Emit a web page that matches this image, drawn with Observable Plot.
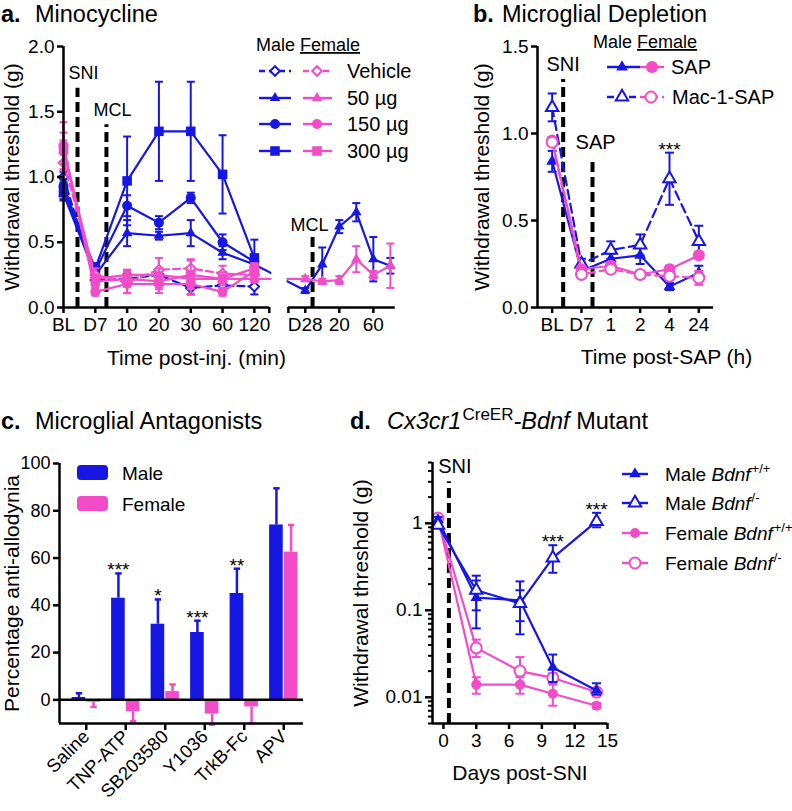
<!DOCTYPE html>
<html><head><meta charset="utf-8">
<script src="https://cdn.jsdelivr.net/npm/d3@7"></script>
<script src="https://cdn.jsdelivr.net/npm/@observablehq/plot@0.6"></script>
<style>
body{margin:0;background:#fff;}
#root{position:relative;width:792px;height:811px;overflow:hidden;background:#fff;}
#root svg{position:absolute;}
</style></head><body><div id="root"></div>
<script>
const BLUE = "#1717e3", PINK = "#f24cc8", FONT = '"Liberation Sans", Arial, Helvetica, sans-serif';

// ---------------- Panel a: Minocycline ----------------
const aEarlyLabels = ["BL","D7","10","20","30","60","120"];
const aLateLabels = ["D28","10","20","30","60","120"];
const aDoses = ["Vehicle","50 µg","150 µg","300 µg"];
const aMaleVeh    = [1.00,0.21,0.22,0.25,0.15,0.17,0.16];
const aMaleVehErr = [0.04,0.03,0.04,0.04,0.05,0.05,0.06];
const aMale50     = [0.87,0.25,0.57,0.55,0.57,0.42,0.33];
const aMale50Err  = [0.05,0.03,0.10,0.03,0.10,0.05,0.04];
const aMale150    = [0.93,0.28,0.78,0.65,0.84,0.50,0.35];
const aMale150Err = [0.05,0.04,0.08,0.05,0.04,0.06,0.05];
const aMale300    = [0.88,0.30,0.97,1.35,1.35,1.02,0.38];
const aMale300Err = [0.05,0.04,0.34,0.38,0.38,0.30,0.14];
const aFemVeh     = [1.11,0.25,0.19,0.29,0.30,0.26,0.25];
const aFemVehErr  = [0.06,0.05,0.08,0.09,0.07,0.06,0.05];
const aFem50      = [1.20,0.22,0.25,0.25,0.22,0.22,0.22];
const aFem50Err   = [0.08,0.03,0.04,0.05,0.04,0.03,0.03];
const aFem150     = [1.24,0.12,0.18,0.18,0.18,0.12,0.28];
const aFem150Err  = [0.18,0.03,0.07,0.07,0.08,0.03,0.04];
const aFem300     = [1.22,0.20,0.22,0.20,0.25,0.22,0.30];
const aFem300Err  = [0.12,0.04,0.06,0.06,0.11,0.05,0.04];
const aMale50Late    = [0.13,0.33,0.62,0.73,0.37,0.32];
const aMale50LateErr = [0.02,0.13,0.05,0.07,0.17,0.06];
const aFem50Late     = [0.22,0.20,0.21,0.37,0.25,0.32];
const aFem50LateErr  = [0.02,0.02,0.03,0.10,0.03,0.17];

// ---------------- Panel b: Microglial depletion ----------------
const bLabels = ["BL","D7","1","2","4","24"];
const bMaleSAP    = [0.84,0.21,0.28,0.30,0.12,0.20];
const bMaleSAPErr = [0.06,0.02,0.03,0.05,0.02,0.04];
const bMaleMac    = [1.15,0.25,0.33,0.36,0.74,0.38];
const bMaleMacErr = [0.08,0.03,0.05,0.06,0.15,0.09];
const bFemSAP     = [0.96,0.22,0.24,0.19,0.22,0.30];
const bFemSAPErr  = [0.02,0.02,0.02,0.02,0.02,0.02];
const bFemMac     = [0.95,0.19,0.22,0.19,0.18,0.17];
const bFemMacErr  = [0.02,0.02,0.02,0.02,0.02,0.04];

// ---------------- Panel c: Microglial antagonists ----------------
const cAgents = ["Saline","TNP-ATP","SB203580","Y1036","TrkB-Fc","APV"];
const cMale      = [1, 43, 32, 28.5, 45, 74];
const cMaleErr   = [1.8, 10.5, 10.5, 5, 10.5, 15.5];
const cFemale    = [-1, -5, 3.5, -6, -3, 62.5];
const cFemaleErr = [2, 4, 3, 4.5, 7, 11.5];
const cStars     = ["", "***", "*", "***", "**", ""];

// ---------------- Panel d: Cx3cr1-Bdnf mutant ----------------
const dDays = [-0.5, 3, 7, 10, 14];
const dMaleWT   = [1.10, 0.14, 0.13, 0.022, 0.012];
const dMaleWTLo = [1.02, 0.062, 0.075, 0.015, 0.0107];
const dMaleWTHi = [1.18, 0.22, 0.17, 0.031, 0.0145];
const dMaleKO   = [0.95, 0.17, 0.12, 0.40, 1.05];
const dMaleKOLo = [0.90, 0.10, 0.053, 0.27, 0.90];
const dMaleKOHi = [1.00, 0.25, 0.215, 0.56, 1.32];
const dFemWT    = [1.15, 0.014, 0.014, 0.011, 0.008];
const dFemWTLo  = [1.10, 0.011, 0.011, 0.008, 0.0075];
const dFemWTHi  = [1.20, 0.017, 0.017, 0.014, 0.0086];
const dFemKO    = [1.15, 0.037, 0.020, 0.0167, 0.0115];
const dFemKOLo  = [1.10, 0.029, 0.0145, 0.0145, 0.0105];
const dFemKOHi  = [1.20, 0.046, 0.029, 0.019, 0.0128];
const dStars    = ["", "", "", "***", "***"];

// ---------------- helpers ----------------
const capSym = {draw(ctx, size){ const w = Math.sqrt(size/Math.PI); ctx.moveTo(-w,0); ctx.lineTo(w,0); }};
function errMarks(rows, col, capR, sw){
  return [
    Plot.ruleX(rows, {x:"x", y1:"lo", y2:"hi", stroke:col, strokeWidth:sw}),
    Plot.dot(rows, {x:"x", y:"hi", symbol:capSym, r:capR, stroke:col, strokeWidth:sw, fill:"none"}),
    Plot.dot(rows, {x:"x", y:"lo", symbol:capSym, r:capR, stroke:col, strokeWidth:sw, fill:"none"})
  ];
}
function seriesMarks(rows, col, sym, opts={}){
  const sw = opts.sw ?? 2.2;
  return [
    ...errMarks(rows, col, opts.capR ?? 4, opts.esw ?? 2),
    Plot.line(rows, {x:"x", y:"y", stroke:col, strokeWidth:sw, strokeDasharray: opts.dash ?? null}),
    Plot.dot(rows, {x:"x", y:"y", symbol:sym.symbol, r:sym.r, fill: sym.open ? "white" : col, stroke:col, strokeWidth: sym.open ? 2 : 0})
  ];
}
const plotStyle = {fontFamily: FONT, background: "transparent", overflow: "visible", color: "black"};
function place(svg, left, top){ svg.style.left = left+"px"; svg.style.top = top+"px"; document.getElementById("root").appendChild(svg); }
function yLabel(text, dx){ return Plot.text([text], {frameAnchor:"left", textAnchor:"middle", rotate:-90, dx, lineAnchor:"middle", fontSize:21, fill:"black"}); }
function xLabel(text, dx, dy){ return Plot.text([text], {frameAnchor:"bottom", textAnchor:"middle", dx, dy, lineAnchor:"top", fontSize:21, fill:"black"}); }
const eventStyle = {stroke:"black", strokeWidth:4, strokeDasharray:"10,5"};

// ---------------- Panel a plot ----------------
const AX = {gapStart: 6.47, gapEnd: 7.07, lateStart: 7.6, lateStep: 0.535, end: 10.43};
const aLateX = j => AX.lateStart + j*AX.lateStep;
const aSyms = [
  {symbol:"diamond2", r:4.3, open:true},
  {symbol:"triangle", r:3.9},
  {symbol:"circle", r:5},
  {symbol:"square", r:5.4}
];
const aSeries = [
  {col:BLUE, dose:0, v:aMaleVeh, e:aMaleVehErr},
  {col:BLUE, dose:1, v:aMale50, e:aMale50Err, lv:aMale50Late, le:aMale50LateErr},
  {col:BLUE, dose:2, v:aMale150, e:aMale150Err},
  {col:BLUE, dose:3, v:aMale300, e:aMale300Err},
  {col:PINK, dose:0, v:aFemVeh, e:aFemVehErr},
  {col:PINK, dose:1, v:aFem50, e:aFem50Err, lv:aFem50Late, le:aFem50LateErr},
  {col:PINK, dose:2, v:aFem150, e:aFem150Err},
  {col:PINK, dose:3, v:aFem300, e:aFem300Err}
];
function aRows(s){
  const r = s.v.map((y,i)=>({x:i, y, lo:y-s.e[i], hi:y+s.e[i]}));
  if (s.lv) s.lv.forEach((y,j)=>r.push({x:aLateX(j), y, lo:y-s.le[j], hi:y+s.le[j]}));
  return r;
}
const aTickPos = [...aEarlyLabels.map((_,i)=>i), AX.gapStart, AX.gapEnd, aLateX(0), aLateX(2), aLateX(4)];
const aTickText = [...aEarlyLabels, "", "", aLateLabels[0], aLateLabels[2], aLateLabels[4]];
const aPlot = Plot.plot({
  width:400, height:390, marginLeft:63, marginRight:3, marginTop:46, marginBottom:83,
  style: plotStyle,
  x:{domain:[0,10.5]}, y:{domain:[0,2]},
  marks:[
    Plot.ruleX([0.44], {y1:0, y2:1.68, ...eventStyle}),
    Plot.ruleX([1.35], {y1:0, y2:1.40, ...eventStyle}),
    Plot.ruleX([7.83], {y1:0, y2:0.54, ...eventStyle}),
    ...aSeries.flatMap(s => seriesMarks(aRows(s), s.col, aSyms[s.dose], {dash: s.dose===0 ? "7,4" : null})),
    Plot.rect([0], {x1:6.55, x2:7.03, y1:0.03, y2:1.9, fill:"white"}),
    Plot.text(["SNI"], {x:0.63, y:1.75, lineAnchor:"bottom", fontSize:18, fill:"black"}),
    Plot.text(["MCL"], {x:1.54, y:1.465, lineAnchor:"bottom", fontSize:18, fill:"black"}),
    Plot.text(["MCL"], {x:7.73, y:0.59, lineAnchor:"bottom", fontSize:18, fill:"black"}),
    Plot.ruleX([0], {y1:0, y2:2, stroke:"black", strokeWidth:2.5}),
    Plot.ruleY([0], {x1:0, x2:AX.gapStart, stroke:"black", strokeWidth:2.5}),
    Plot.ruleY([0], {x1:AX.gapEnd, x2:AX.end, stroke:"black", strokeWidth:2.5}),
    Plot.axisY({ticks:[0,0.5,1,1.5,2], tickFormat:d3.format(".1f"), tickSize:6, tickPadding:3, fontSize:19, strokeWidth:2.5, label:null}),
    Plot.axisX({ticks:aTickPos, tickFormat:(d,i)=>aTickText[aTickPos.indexOf(d)], tickSize:6, tickPadding:4, fontSize:19, strokeWidth:2.5, label:null}),
    yLabel("Withdrawal threshold (g)", -51),
    xLabel("Time post-inj. (min)", -34, 43)
  ]
});
place(aPlot, 0, 0);

// ---------------- Panel b plot ----------------
function bRows(v, e){ return v.map((y,i)=>({x:i, y, lo:y-e[i], hi:y+e[i]})); }
const bPlot = Plot.plot({
  width:392, height:390, marginLeft:137, marginRight:79, marginTop:46, marginBottom:83,
  style: plotStyle,
  x:{domain:[-0.5,5.5]}, y:{domain:[0,1.5]},
  marks:[
    Plot.ruleX([0.375], {y1:0, y2:1.31, ...eventStyle}),
    Plot.ruleX([1.375], {y1:0, y2:0.854, ...eventStyle}),
    ...seriesMarks(bRows(bMaleSAP,bMaleSAPErr), BLUE, {symbol:"triangle", r:4.4}, {capR:4.5}),
    ...seriesMarks(bRows(bMaleMac,bMaleMacErr), BLUE, {symbol:"triangle", r:4.6, open:true}, {dash:"9,5", capR:4.5}),
    ...seriesMarks(bRows(bFemSAP,bFemSAPErr), PINK, {symbol:"circle", r:6}, {capR:4.5}),
    ...seriesMarks(bRows(bFemMac,bFemMacErr), PINK, {symbol:"circle", r:5.5, open:true}, {dash:"9,5", capR:4.5}),
    Plot.text(["SNI"], {x:0.375, y:1.36, lineAnchor:"bottom", fontSize:20, fill:"black"}),
    Plot.text(["SAP"], {x:1.48, y:0.91, lineAnchor:"bottom", fontSize:20, fill:"black"}),
    Plot.text(["***"], {x:4, y:bMaleMac[4]+bMaleMacErr[4], lineAnchor:"bottom", dy:3, fontSize:19, fill:"black"}),
    Plot.ruleX([-0.5], {y1:0, y2:1.5, stroke:"black", strokeWidth:2.5}),
    Plot.ruleY([0], {x1:-0.5, x2:5.5, stroke:"black", strokeWidth:2.5}),
    Plot.axisY({ticks:[0,0.5,1,1.5], tickFormat:d3.format(".1f"), tickSize:6, tickPadding:3, fontSize:19, strokeWidth:2.5, label:null}),
    Plot.axisX({ticks:d3.range(bLabels.length), tickFormat:i=>bLabels[i], tickSize:6, tickPadding:4, fontSize:19, strokeWidth:2.5, label:null}),
    yLabel("Withdrawal threshold (g)", -55),
    xLabel("Time post-SAP (h)", 41, 42)
  ]
});
place(bPlot, 400, 0);

// ---------------- Panel c plot ----------------
const cBarW = 0.345, cGap = 0.013;
const cRows = cAgents.flatMap((a,i)=>[
  {i, sex:"Male", v:cMale[i], e:cMaleErr[i], x1:i-cGap-cBarW, x2:i-cGap, col:BLUE},
  {i, sex:"Female", v:cFemale[i], e:cFemaleErr[i], x1:i+cGap, x2:i+cGap+cBarW, col:PINK}
]).map(d=>({...d, x:(d.x1+d.x2)/2, lo:d.v, hi:d.v + Math.sign(d.v||1)*d.e}));
const cPlot = Plot.plot({
  width:400, height:411, marginLeft:59, marginRight:97, marginTop:63, marginBottom:88,
  style: plotStyle,
  x:{domain:[-0.677,5.5]}, y:{domain:[-10,100]},
  marks:[
    Plot.ruleX(cRows, {x:"x", y1:"lo", y2:"hi", stroke:"col", strokeWidth:2.5}),
    Plot.dot(cRows, {x:"x", y:"hi", symbol:capSym, r:3.2, stroke:"col", strokeWidth:2.5, fill:"none"}),
    Plot.rect(cRows, {x1:"x1", x2:"x2", y1:0, y2:"v", fill:"col"}),
    Plot.text(cRows.filter(d=>d.sex==="Male"), {x:"x", y:"hi", text:d=>cStars[d.i], lineAnchor:"bottom", dy:3, fontSize:19, fill:"black"}),
    Plot.ruleY([0], {x1:-0.677, x2:5.5, stroke:"black", strokeWidth:2.5}),
    Plot.ruleX([-0.677], {y1:-10, y2:100, stroke:"black", strokeWidth:2.5}),
    Plot.ruleY([-10], {x1:-0.677, x2:5.5, stroke:"black", strokeWidth:2.5}),
    Plot.axisY({ticks:d3.range(0,101,20), tickSize:6, tickPadding:3, fontSize:18, strokeWidth:2.5, label:null}),
    Plot.axisX({ticks:d3.range(cAgents.length), tickFormat:i=>cAgents[i], tickRotate:-45, tickSize:7, tickPadding:3, fontSize:18.5, strokeWidth:2.5, label:null}),
    yLabel("Percentage anti-allodynia", -47.5)
  ],
  color:{type:"identity"}
});
place(cPlot, 0, 400);

// ---------------- Panel d plot ----------------
function dRows(v, lo, hi){ return v.map((y,i)=>({x:dDays[i], y, lo:lo[i], hi:hi[i]})); }
const dMinor = [...d3.range(5,10).map(k=>k/1000), ...d3.range(2,10).map(k=>k/100), ...d3.range(2,10).map(k=>k/10), 2,3,4,5];
const dPlot = Plot.plot({
  width:392, height:411, marginLeft:32, marginRight:185, marginTop:62, marginBottom:88,
  style: plotStyle,
  x:{domain:[-1,15]}, y:{type:"log", domain:[0.005,5]},
  marks:[
    Plot.ruleX([0.5], {y1:0.005, y2:3, ...eventStyle}),
    ...seriesMarks(dRows(dFemWT,dFemWTLo,dFemWTHi), PINK, {symbol:"circle", r:5}, {capR:4.5}),
    ...seriesMarks(dRows(dFemKO,dFemKOLo,dFemKOHi), PINK, {symbol:"circle", r:5.5, open:true}, {capR:4.5}),
    ...seriesMarks(dRows(dMaleWT,dMaleWTLo,dMaleWTHi), BLUE, {symbol:"triangle", r:4.3}, {capR:4.5}),
    ...seriesMarks(dRows(dMaleKO,dMaleKOLo,dMaleKOHi), BLUE, {symbol:"triangle", r:4.6, open:true}, {capR:4.5}),
    Plot.text(dRows(dMaleKO,dMaleKOLo,dMaleKOHi).map((d,i)=>({...d, s:dStars[i]})), {x:"x", y:"hi", text:"s", lineAnchor:"bottom", dy:3, fontSize:19, fill:"black"}),
    Plot.text(["SNI"], {x:1.05, y:3.77, lineAnchor:"bottom", fontSize:20, fill:"black"}),
    Plot.ruleX([-1], {y1:0.005, y2:5, stroke:"black", strokeWidth:2.5}),
    Plot.ruleY([0.005], {x1:-1, x2:15, stroke:"black", strokeWidth:2.5}),
    Plot.axisY({ticks:dMinor, tickSize:4, tickFormat:()=>"", strokeWidth:2, label:null}),
    Plot.axisY({ticks:[0.01,0.1,1], tickFormat:d=>String(d), tickSize:7, tickPadding:3, fontSize:19, strokeWidth:2.5, label:null}),
    Plot.axisX({ticks:d3.range(0,16,3), tickSize:6, tickPadding:4, fontSize:19, strokeWidth:2.5, label:null}),
    yLabel("Withdrawal threshold (g)", -71),
    xLabel("Days post-SNI", 0, 42)
  ]
});
place(dPlot, 400, 400);

// ---------------- Titles and legends (overlay) ----------------
const ov = d3.select("#root").append("svg").attr("width",792).attr("height",811)
  .style("left","0px").style("top","0px").style("font-family",FONT).style("pointer-events","none");
const symTypes = {triangle:d3.symbolTriangle, square:d3.symbolSquare, diamond2:d3.symbolDiamond2};
function drawSym(x, y, s, col){
  if (s.symbol === "circle") ov.append("circle").attr("cx",x).attr("cy",y).attr("r",s.r)
      .attr("fill", s.open ? "white" : col).attr("stroke", col).attr("stroke-width", s.open ? 2 : 0);
  else ov.append("path").attr("transform",`translate(${x},${y})`).attr("d", d3.symbol(symTypes[s.symbol], Math.PI*s.r*s.r)())
      .attr("fill", s.open ? "white" : col).attr("stroke", col).attr("stroke-width", s.open ? 2 : 0);
}
function seg(x1, x2, y, col, dash){
  ov.append("line").attr("x1",x1).attr("x2",x2).attr("y1",y).attr("y2",y).attr("stroke",col).attr("stroke-width",2.4)
    .attr("stroke-dasharray", dash || null);
}
function txt(x, y, size){ return ov.append("text").attr("x",x).attr("y",y).attr("font-size",size).attr("fill","black"); }

// titles
let t = txt(1, 22, 23.5); t.append("tspan").attr("font-weight","bold").text("a."); t.append("tspan").attr("x",35).text("Minocycline");
t = txt(473, 22, 23.5); t.append("tspan").attr("font-weight","bold").text("b."); t.append("tspan").attr("x",502).text("Microglial Depletion");
t = txt(1, 429, 23.5); t.append("tspan").attr("font-weight","bold").text("c."); t.append("tspan").attr("x",35).text("Microglial Antagonists");
t = txt(350, 429, 23.5); t.append("tspan").attr("font-weight","bold").text("d.");
t.append("tspan").attr("x",387).attr("font-style","italic").text("Cx3cr1");
t.append("tspan").attr("font-size",17).attr("dy",-9).attr("dx",1).text("CreER");
t.append("tspan").attr("dy",9).attr("font-style","italic").text("-Bdnf");
t.append("tspan").text(" Mutant");

// legend a
t = txt(256, 51, 18); t.append("tspan").text("Male "); t.append("tspan").attr("text-decoration","underline").text("Female");
const aRowY = [71, 98, 124, 151];
aDoses.forEach((name, k)=>{
  const y = aRowY[k], dash = k===0 ? "6,4" : null;
  seg(259, 291, y, BLUE, dash); drawSym(275, y, aSyms[k], BLUE);
  seg(303, 332, y, PINK, dash); drawSym(317, y, aSyms[k], PINK);
  txt(347, y+7, 20).text(name);
});

// legend b
t = txt(593, 48, 18); t.append("tspan").text("Male "); t.append("tspan").attr("text-decoration","underline").text("Female");
seg(607, 640, 67, BLUE); seg(640, 664, 67, PINK);
drawSym(622, 67, {symbol:"triangle", r:4.4}, BLUE); drawSym(652, 67, {symbol:"circle", r:6}, PINK);
txt(671, 74, 20).text("SAP");
seg(607, 640, 97, BLUE, "7,4"); seg(640, 664, 97, PINK, "7,4");
drawSym(622, 97, {symbol:"triangle", r:4.6, open:true}, BLUE); drawSym(651, 97, {symbol:"circle", r:5.5, open:true}, PINK);
txt(672, 104, 20).text("Mac-1-SAP");

// legend c
ov.append("rect").attr("x",77).attr("y",465).attr("width",31).attr("height",15).attr("rx",4).attr("fill",BLUE);
ov.append("rect").attr("x",77).attr("y",496).attr("width",31).attr("height",15).attr("rx",4).attr("fill",PINK);
txt(122, 480, 19).text("Male");
txt(122, 511, 19).text("Female");

// legend d
const dLegend = [
  {sex:"Male", g:"+/+", col:BLUE, s:{symbol:"triangle", r:4.3}},
  {sex:"Male", g:"/-", col:BLUE, s:{symbol:"triangle", r:4.6, open:true}},
  {sex:"Female", g:"+/+", col:PINK, s:{symbol:"circle", r:5}},
  {sex:"Female", g:"/-", col:PINK, s:{symbol:"circle", r:5.5, open:true}}
];
[474, 503, 533, 563].forEach((y,k)=>{
  const L = dLegend[k];
  seg(622, 648, y, L.col); drawSym(635, y, L.s, L.col);
  const tt = txt(665, y+7, 19);
  tt.append("tspan").text(L.sex + " ");
  tt.append("tspan").attr("font-style","italic").text("Bdnf");
  tt.append("tspan").attr("font-size",13).attr("dy",-8).attr("dx",1).text(L.g);
});
</script></body></html>
